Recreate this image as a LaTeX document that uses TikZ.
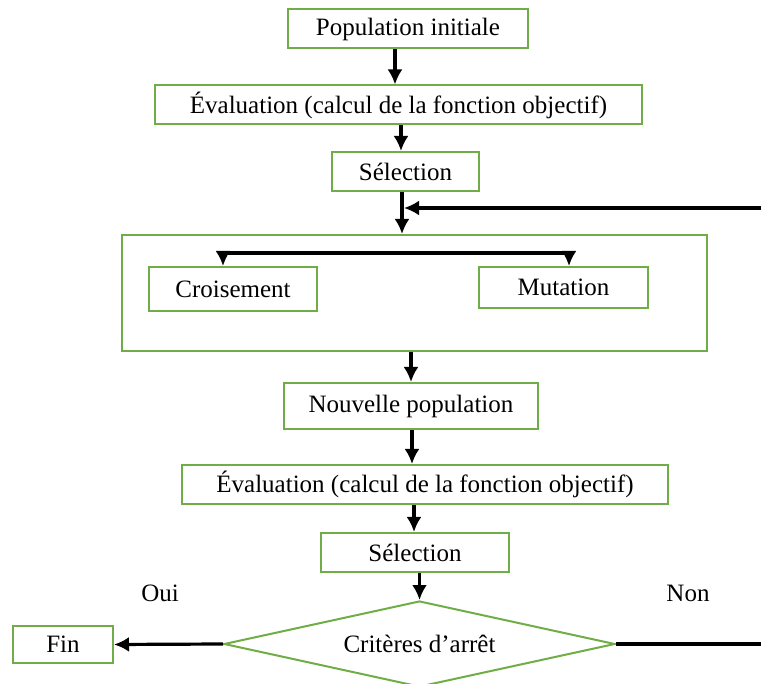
\documentclass[tikz,border=0pt]{standalone}
\usepackage{fontspec}
\setmainfont{Liberation Serif}
\usetikzlibrary{arrows.meta,shapes.geometric}
\definecolor{boxgreen}{RGB}{112,173,71}
\begin{document}
\begin{tikzpicture}[x=1pt,y=-1pt,
  font=\fontsize{25}{30}\selectfont,
  stepbox/.style={draw=boxgreen,line width=2pt,inner sep=0pt,fill=white},
  decision/.style={draw=boxgreen,line width=2pt,inner sep=0pt,shape=diamond,shape aspect=4.55},
  tip/.tip={Latex[length=15pt,width=15pt]},
  flow/.style={line width=3.2pt,-tip},
  plain/.style={line width=3.2pt},
  lbl/.style={inner sep=0pt}]
\useasboundingbox (0,0) rectangle (761,684);
\clip (0,0) rectangle (761,684);

% boxes of the flow chart
\node[stepbox,minimum width=240pt,minimum height=39pt] (pop)   at (408,29)  {Population initiale};
\node[stepbox,minimum width=487pt,minimum height=39pt] (eval1) at (398.5,105) {Évaluation (calcul de la fonction objectif)};
\node[stepbox,minimum width=147pt,minimum height=39pt] (sel1)  at (405.5,171.5) {Sélection};
\node[stepbox,minimum width=585pt,minimum height=116pt] (ops)  at (414.5,293) {};
\node[stepbox,minimum width=168pt,minimum height=44pt] (cro)   at (233,289)   {Croisement};
\node[stepbox,minimum width=169pt,minimum height=41pt] (mut)   at (563.5,287.5) {Mutation};
\node[stepbox,minimum width=254pt,minimum height=46pt] (newpop) at (411,406)  {Nouvelle population};
\node[stepbox,minimum width=486pt,minimum height=39pt] (eval2) at (425,484.5)  {Évaluation (calcul de la fonction objectif)};
\node[stepbox,minimum width=188pt,minimum height=39pt] (sel2)  at (415,552.5)  {Sélection};
\node[decision,minimum width=391pt,minimum height=86pt] (crit) at (419.5,644) {Critères d’arrêt};
\node[stepbox,minimum width=100pt,minimum height=37pt] (fin)   at (63,644.5)   {Fin};

% branch labels
\node[lbl] (oui) at (160,593) {Oui};
\node[lbl] (non) at (688,593) {Non};

% columns of the vertical connectors
\coordinate (c1) at (395,0);
\coordinate (c2) at (401,0);
\coordinate (c3) at (402,0);
\coordinate (c4) at (411,0);
\coordinate (c5) at (412,0);
\coordinate (c6) at (414,0);
\coordinate (cl) at (223,0);
\coordinate (cr) at (569,0);
\coordinate (bar) at (0,253);
\coordinate (join) at (404,208);
\coordinate (back) at (761,208);
\coordinate (nonend) at (761,644);

% main flow
\draw[flow] (pop.south -| c1) -- (eval1.north -| c1);
\draw[flow] (eval1.south -| c2) -- (sel1.north -| c2);
\draw[flow] (sel1.south -| c3) -- (ops.north -| c3);
\draw[flow] (back) -- (join);
\draw[line width=3.2pt,tip-tip]
  (cro.north -| cl) -- (bar -| cl) -- (bar -| cr) -- (mut.north -| cr);
\draw[flow] (ops.south -| c4) -- (newpop.north -| c4);
\draw[flow] (newpop.south -| c5) -- (eval2.north -| c5);
\draw[flow] (eval2.south -| c6) -- (sel2.north -| c6);
\draw[flow] (sel2.south -| crit.north) -- (crit.north);
\draw[flow] (crit.west) -- (fin.east);
\draw[plain] (crit.east) -- (nonend);
\end{tikzpicture}
\end{document}
